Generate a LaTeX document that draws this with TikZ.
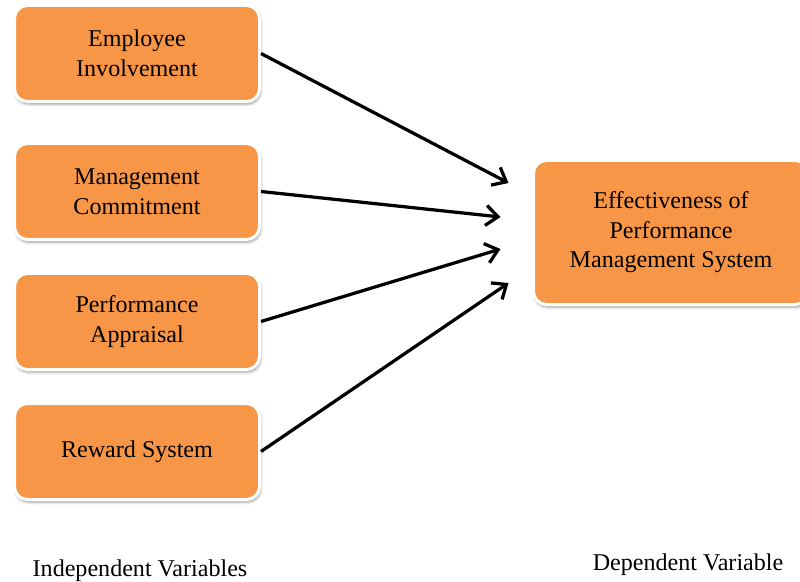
\documentclass[tikz,border=0pt]{standalone}
\usepackage{fontspec}
\setmainfont{Liberation Serif}
\usetikzlibrary{arrows.meta,positioning,calc,shadows.blur}
\definecolor{varorange}{HTML}{F79646}
\tikzset{
  iv/.style = {draw=white, fill=varorange, line width=0.06cm, rounded corners=0.26cm, minimum width=4.9cm, minimum height=1.92cm, align=center, font=\fontsize{13.7}{16.8}\selectfont, blur shadow={shadow xshift=0.6pt, shadow yshift=-1.5pt, shadow blur radius=1.6pt, shadow opacity=40}},
  dv/.style = {iv, minimum width=5.5cm, minimum height=2.88cm},
  lbl/.style = {font=\fontsize{13.7}{16.8}\selectfont},
  arrow/.style = {line width=0.065cm, -{Straight Barb[length=2.4mm, width=4mm]}}
}

\begin{document}
\begin{tikzpicture}
  \useasboundingbox (0,0) rectangle (16,-11.64);
  % independent variables
  \node[iv] (ei) at (2.74,-1.07) {Employee\\Involvement};
  \node[iv, below=0.78cm of ei] (mc) {Management\\Commitment};
  \node[iv, below=0.62cm of mc] (pa) {Performance\\Appraisal};
  \node[iv, below=0.62cm of pa] (rs) {Reward System};
  % dependent variable
  \node[dv] (eff) at (13.42,-4.65) {Effectiveness of\\Performance\\Management System};
  \coordinate (t1) at ($(eff.west)+(-0.47,0.99)$);
  \coordinate (t2) at ($(eff.west)+(-0.63,0.31)$);
  \coordinate (t3) at ($(eff.west)+(-0.63,-0.33)$);
  \coordinate (t4) at ($(eff.west)+(-0.47,-1.01)$);
  \draw[arrow] (ei.east) -- (t1);
  \draw[arrow] (mc.east) -- (t2);
  \draw[arrow] (pa.east) -- (t3);
  \draw[arrow] (rs.east) -- (t4);
  % captions
  \node[lbl] (ivl) at (2.8,-11.42) {Independent Variables};
  \node[lbl] (dvl) at (13.76,-11.3) {Dependent Variable};
\end{tikzpicture}
\end{document}
